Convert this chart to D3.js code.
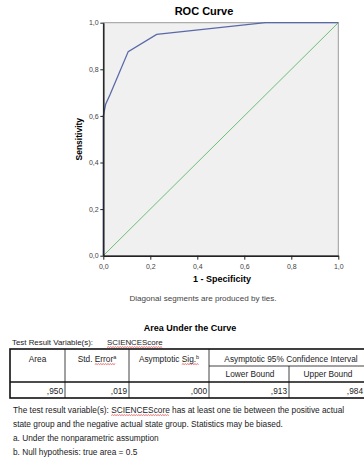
<!DOCTYPE html>
<meta charset="utf-8">
<style>
body { margin: 0; background: #fff; }
svg { font-family: "Liberation Sans", Arial, sans-serif; display: block; }
.tick text { font-size: 7px; fill: #444; }
.tick line { stroke: #222; }
.axis path { stroke: #222; stroke-width: 1.5; }
.cell { font-size: 8.3px; fill: #222; }
.note { font-size: 8.3px; fill: #222; }
</style>
<body>
<script src="https://cdn.jsdelivr.net/npm/d3@7"></script>
<script>

// ROC curve points: [1 - specificity, sensitivity]
const rocPoints = [[0, 0], [0, 0.6], [0.01, 0.65], [0.028, 0.69], [0.106, 0.876], [0.227, 0.95], [0.69, 1], [1, 1]];
const refLine = [[0, 0], [1, 1]];
const tickValues = [0, 0.2, 0.4, 0.6, 0.8, 1.0];

const headerTop = ["Area", "Std. Error", "Asymptotic Sig.", "Asymptotic 95% Confidence Interval"];
const headerSub = ["Lower Bound", "Upper Bound"];
const aucValues = [",950", ",019", ",000", ",913", ",984"];
const notes = [
  "The test result variable(s): SCIENCEScore has at least one tie between the positive actual",
  "state group and the negative actual state group. Statistics may be biased.",
  "a. Under the nonparametric assumption",
  "b. Null hypothesis: true area = 0.5"
];

const width = 364, height = 462;
const svg = d3.select("body").append("svg")
    .attr("width", width)
    .attr("height", height);

let x = d3.scaleLinear().domain([0, 1]).range([103.3, 338.3]);
let y = d3.scaleLinear().domain([0, 1]).range([255.7, 22.7]);

const comma = d3.formatLocale({decimal: ",", thousands: ".", grouping: [3], currency: ["", ""]}).format(".1f");

// plot background
svg.append("rect")
    .attr("x", x(0)).attr("y", y(1))
    .attr("width", x(1) - x(0)).attr("height", y(0) - y(1))
    .attr("fill", "#f0f0f0")
    .attr("stroke", "#9a9a9a");

svg.append("path")
    .datum(refLine)
    .attr("fill", "none")
    .attr("stroke", "#6fbf73")
    .attr("stroke-width", 1)
    .attr("d", d3.line().x(d => x(d[0])).y(d => y(d[1])));

svg.append("path")
    .datum(rocPoints)
    .attr("fill", "none")
    .attr("stroke", "#5a6aa8")
    .attr("stroke-width", 1.3)
    .attr("d", d3.line().x(d => x(d[0])).y(d => y(d[1])));

svg.append("g")
    .attr("class", "axis")
    .attr("transform", "translate(" + x(0) + ",0)")
    .call(d3.axisLeft(y).tickValues(tickValues).tickFormat(comma).tickSize(3).tickSizeOuter(0))
    .selectAll(".tick text").attr("dx", "0.2em");

svg.append("g")
    .attr("class", "axis")
    .attr("transform", "translate(0," + y(0) + ")")
    .call(d3.axisBottom(x).tickValues(tickValues).tickFormat(comma).tickSize(4).tickSizeOuter(0))
    .selectAll(".tick text").attr("dy", "0.9em");

svg.append("text")
    .attr("x", 204).attr("y", 15)
    .attr("text-anchor", "middle")
    .style("font-size", "11px").style("font-weight", "bold")
    .text("ROC Curve");

svg.append("text")
    .attr("x", 222).attr("y", 282)
    .attr("text-anchor", "middle")
    .style("font-size", "9px").style("font-weight", "bold")
    .text("1 - Specificity");

svg.append("text")
    .attr("transform", "translate(82," + (y(0.5)) + ")rotate(-90)")
    .attr("text-anchor", "middle")
    .style("font-size", "8.5px").style("font-weight", "bold")
    .text("Sensitivity");

svg.append("text")
    .attr("x", 203).attr("y", 301)
    .attr("text-anchor", "middle")
    .style("font-size", "8.1px").style("fill", "#444")
    .text("Diagonal segments are produced by ties.");

// ---- Area Under the Curve table ----
svg.append("text")
    .attr("x", 190).attr("y", 331)
    .attr("text-anchor", "middle")
    .style("font-size", "9px").style("font-weight", "bold")
    .text("Area Under the Curve");

function wavy(x0, x1, yy) {
  let p = d3.path();
  p.moveTo(x0, yy);
  let up = true;
  for (let xx = x0 + 1.2; xx <= x1; xx += 1.2) { p.lineTo(xx, yy + (up ? -0.8 : 0)); up = !up; }
  svg.append("path").attr("d", p.toString()).attr("fill", "none").attr("stroke", "#d33").attr("stroke-width", 0.7);
}

svg.append("text").attr("class", "cell").style("font-size", "7.9px").attr("x", 12).attr("y", 345).text("Test Result Variable(s):");
const trvName = svg.append("text").attr("class", "cell").style("font-size", "7.9px").attr("x", 107).attr("y", 345).text("SCIENCEScore");
wavy(107, 107 + trvName.node().getComputedTextLength(), 347.5);

const cols = [10, 65, 129, 209, 289, 372];
const rows = {top: 349, mid: 366, head: 382, bottom: 398};

const lines = svg.append("g").attr("stroke", "#111");
lines.append("rect")
    .attr("x", cols[0]).attr("y", rows.top)
    .attr("width", cols[5] - cols[0]).attr("height", rows.bottom - rows.top)
    .attr("fill", "none").attr("stroke-width", 1.6);
lines.append("line").attr("x1", cols[0]).attr("x2", cols[5]).attr("y1", rows.head).attr("y2", rows.head).attr("stroke-width", 1.6);
lines.append("line").attr("x1", cols[3]).attr("x2", cols[5]).attr("y1", rows.mid).attr("y2", rows.mid).attr("stroke-width", 0.8);
[1, 2, 3].forEach(i => lines.append("line").attr("x1", cols[i]).attr("x2", cols[i]).attr("y1", rows.top).attr("y2", rows.bottom).attr("stroke-width", 0.8));
lines.append("line").attr("x1", cols[4]).attr("x2", cols[4]).attr("y1", rows.mid).attr("y2", rows.bottom).attr("stroke-width", 0.8);

const sup = ["", "a", "b", ""];
headerTop.forEach((h, i) => {
  let cx = i < 3 ? (cols[i] + cols[i + 1]) / 2 : 291;
  let t = svg.append("text").attr("class", "cell")
      .attr("x", cx).attr("y", 362).attr("text-anchor", "middle");
  t.append("tspan").text(h);
  if (sup[i]) t.append("tspan").attr("dy", -3).style("font-size", "5.5px").text(sup[i]);
  if (sup[i]) {
    let node = t.node();
    let word = i === 1 ? "Error" : "Sig.";
    let full = node.getComputedTextLength();
    let left = cx - full / 2 + node.getSubStringLength(0, h.length - word.length);
    wavy(left, left + node.getSubStringLength(h.length - word.length, word.length) + 3, 364.5);
  }
});

headerSub.forEach((h, i) => {
  svg.append("text").attr("class", "cell")
      .attr("x", i === 0 ? 250 : 328).attr("y", 377)
      .attr("text-anchor", "middle")
      .text(h);
});

aucValues.forEach((v, i) => {
  svg.append("text").attr("class", "cell")
      .attr("x", i < 4 ? cols[i + 1] - 2 : 363).attr("y", 394)
      .attr("text-anchor", "end")
      .text(v);
});

const noteY = [413, 427, 441, 455];
notes.forEach((n, i) => {
  let t = svg.append("text").attr("class", "note").attr("x", 13).attr("y", noteY[i]).text(n);
  if (i === 0) {
    let pre = "The test result variable(s): ";
    let left = 13 + t.node().getSubStringLength(0, pre.length);
    wavy(left, left + t.node().getSubStringLength(pre.length, 12), 415.5);
  }
});

</script>
